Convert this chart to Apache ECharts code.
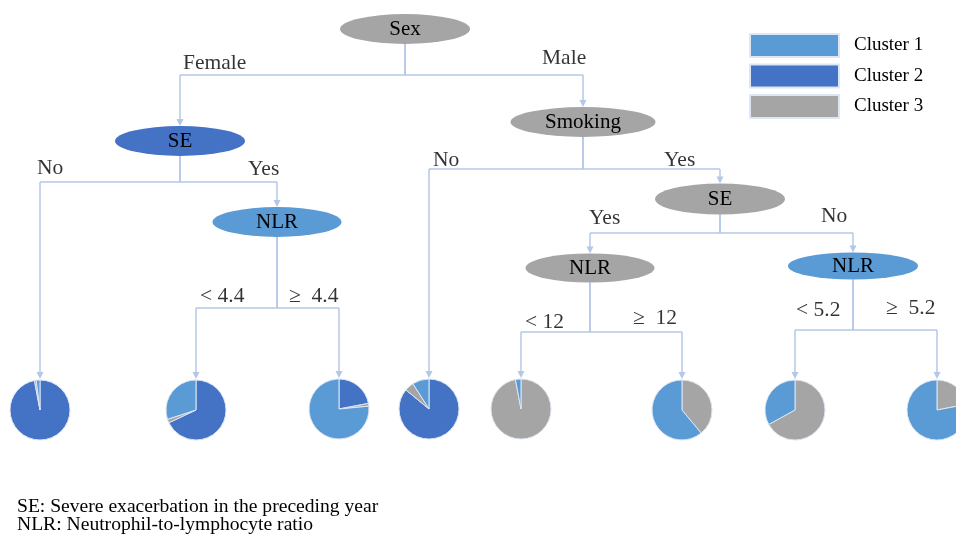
<!DOCTYPE html>
<html><head><meta charset="utf-8">
<script src="https://cdn.jsdelivr.net/npm/echarts@6/dist/echarts.min.js"></script>
<style>html,body{margin:0;padding:0;background:#fff}#c{width:956px;height:535px}</style>
</head><body><div id="c"></div>
<script>
// ---------- data ----------
const clusterNames = ['Cluster 1', 'Cluster 2', 'Cluster 3'];
const nodeNames = ['Sex', 'SE', 'NLR', 'Smoking', 'SE', 'NLR', 'NLR'];
const nodeCluster = [2, 1, 0, 2, 2, 2, 0]; // index into clusterNames
// leaf pies (percent of each cluster)
const leafCluster1 = [2, 30, 76.5, 9, 3, 61, 33, 78];
const leafCluster2 = [97, 68, 22, 86, 0, 0, 0, 0];
const leafCluster3 = [1, 2, 1.5, 5, 97, 39, 67, 22];
// edges: parent node index, child ('n' node / 'l' leaf + index), branch label
const edgeParent = [0, 0, 1, 1, 2, 2, 3, 3, 4, 4, 5, 5, 6, 6];
const edgeChild = ['n1', 'n3', 'l0', 'n2', 'l1', 'l2', 'l3', 'n4', 'n5', 'n6', 'l4', 'l5', 'l6', 'l7'];
const edgeLabels = ['Female', 'Male', 'No', 'Yes', '< 4.4', '\u2265  4.4', 'No', 'Yes', 'Yes', 'No', '< 12', '\u2265  12', '< 5.2', '\u2265  5.2'];
const footnotes = ['SE: Severe exacerbation in the preceding year', 'NLR: Neutrophil-to-lymphocyte ratio'];

// ---------- layout (diagram units) ----------
const nodeLayout = [[405, 29, 130, 30], [180, 141, 130, 30], [277, 222, 129, 30], [583, 122, 145, 30],
                    [720, 199, 130, 31], [590, 268, 129, 29], [853, 266, 130, 27]];
const forkY = [75, 182, 308, 169, 233, 332, 330];
const leafLayout = [[40, 410], [196, 410], [339, 409], [429, 409], [521, 409], [682, 410], [795, 410], [937, 410]];
const leafR = 30;
const labelLayout = [[183, 63], [542, 58], [37, 168], [248, 169], [200, 296], [289, 296], [433, 160], [664, 160],
                     [589, 218], [821, 216], [525, 322], [633, 318], [796, 310], [886, 308]];

// ---------- styles ----------
const colors = ['#5b9bd5', '#4472c4', '#a5a5a5'];
const lineColor = '#b4c7e7';
const serif = 'Liberation Serif';
const arrowSize = 7;

// build segments
const plainSegs = [], arrowSegs = [];
edgeParent.forEach((p, i) => {
  const pn = nodeLayout[p];
  const px = pn[0], pb = pn[1] + pn[3] / 2;
  const c = edgeChild[i];
  const idx = +c.slice(1);
  let cx, ct;
  if (c[0] === 'n') { cx = nodeLayout[idx][0]; ct = nodeLayout[idx][1] - nodeLayout[idx][3] / 2; }
  else { cx = leafLayout[idx][0]; ct = leafLayout[idx][1] - leafR - 1; }
  const fy = forkY[p];
  plainSegs.push({ coords: [[px, pb], [px, fy]] });
  plainSegs.push({ coords: [[px, fy], [cx, fy]] });
  arrowSegs.push({ coords: [[cx, fy], [cx, ct - arrowSize / 2]] });
});

const chart = echarts.init(document.getElementById('c'), null, { renderer: 'canvas' });

const baseOption = {
  animation: false,
  backgroundColor: '#fff',
  grid: { left: 0, right: 0, top: 0, bottom: 0 },
  xAxis: { type: 'value', min: 0, max: 956, show: false },
  yAxis: { type: 'value', min: 0, max: 535, inverse: true, show: false },
  legend: {
    data: clusterNames, orient: 'vertical', left: 749, top: 33, padding: 0,
    icon: 'rect', itemWidth: 89, itemHeight: 23, itemGap: 5.5, selectedMode: false,
    textStyle: { fontFamily: serif, fontSize: 19, lineHeight: 23, color: '#000', padding: [0, 0, 0, 10] }
  },
  series: [
    { type: 'lines', coordinateSystem: 'cartesian2d', silent: true, z: 1,
      symbol: 'none', lineStyle: { color: lineColor, width: 1.5, opacity: 1, curveness: 0 },
      data: plainSegs },
    { type: 'lines', coordinateSystem: 'cartesian2d', silent: true, z: 1,
      symbol: ['none', 'triangle'], symbolSize: arrowSize,
      lineStyle: { color: lineColor, width: 1.5, opacity: 1, curveness: 0 },
      data: arrowSegs },
    { type: 'scatter', silent: true, z: 3, symbol: 'circle',
      data: nodeNames.map((n, i) => ({
        name: n, value: [nodeLayout[i][0], nodeLayout[i][1]],
        symbolSize: [nodeLayout[i][2], nodeLayout[i][3]],
        itemStyle: { color: colors[nodeCluster[i]], opacity: 1 }
      })),
      label: { show: true, position: 'inside', formatter: p => p.name,
        fontFamily: serif, fontSize: 21, color: '#000' } },
    { type: 'scatter', silent: true, z: 3, symbol: 'circle', symbolSize: 0,
      data: edgeLabels.map((t, i) => ({ name: t, value: labelLayout[i] })),
      label: { show: true, position: 'right', distance: 0, formatter: p => p.name,
        fontFamily: serif, fontSize: 21.5, color: '#000' } }
  ],
  graphic: footnotes.map((t, i) => ({
    type: 'text', left: 17, top: 497 + i * 18,
    style: { text: t, font: '19.6px "Liberation Serif"', fill: '#000' }
  }))
};
chart.setOption(baseOption);

// pies positioned through the cartesian scale
const pieSeries = leafLayout.map((pos, i) => {
  const c = chart.convertToPixel({ gridIndex: 0 }, pos);
  const r = chart.convertToPixel({ gridIndex: 0 }, [pos[0] + leafR, pos[1]])[0] - c[0];
  return {
    type: 'pie', center: c, radius: r, startAngle: 90, clockwise: true, silent: true, z: 2,
    label: { show: false }, labelLine: { show: false }, emphasis: { disabled: true },
    itemStyle: { borderColor: '#dde6f4', borderWidth: 1 },
    data: [
      { name: clusterNames[1], value: leafCluster2[i], itemStyle: { color: colors[1] } },
      { name: clusterNames[2], value: leafCluster3[i], itemStyle: { color: colors[2] } },
      { name: clusterNames[0], value: leafCluster1[i], itemStyle: { color: colors[0] } }
    ]
  };
});
chart.setOption({ series: baseOption.series.concat(pieSeries) });
</script>
</body></html>
